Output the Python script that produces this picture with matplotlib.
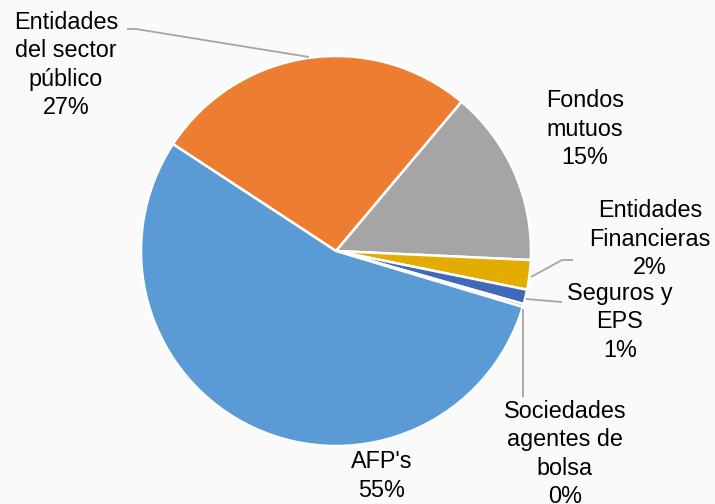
import matplotlib
matplotlib.use("Agg")
import matplotlib.pyplot as plt

plt.rcParams['font.family'] = ['Liberation Sans', 'DejaVu Sans']

categories = ["Entidades\ndel sector\npúblico", "Fondos\nmutuos", "Entidades\nFinancieras",
              "Seguros y\nEPS", "Sociedades\nagentes de\nbolsa", "AFP's"]
shares = [26.9, 14.6, 2.45, 1.2, 0.25, 54.6]
colors = ["#ED7D31", "#A5A5A5", "#E5AC00", "#4169B9", "#70AD47", "#5B9BD5"]

# label layout (pixel coords, y from top)
label_pos = [(66, 65), (585, 129), (650, 239), (620, 322), (565, 454), (382, 476)]

W, H = 715, 504
fig = plt.figure(figsize=(W / 100, H / 100), dpi=100, facecolor="#fafafa")
ax = fig.add_axes([0, 0, 1, 1])

cx, cy, r = 336, H - 251, 195
ax.pie(shares, colors=colors, startangle=146.75, counterclock=False,
       center=(cx, cy), radius=r, frame=True,
       wedgeprops=dict(edgecolor="white", linewidth=1.8))
ax.set_xlim(0, W)
ax.set_ylim(0, H)
ax.set_aspect('equal')
ax.axis('off')

for name, v, (x, y) in zip(categories, shares, label_pos):
    ax.text(x, H - y, f"{name}\n{round(v):.0f}%", ha='center', va='center',
            multialignment='center', fontsize=16.8, color='black', linespacing=1.28)

# leader lines
lc = "#A6A6A6"
leaders = [
    [(127, 29), (136, 29), (309, 57)],
    [(531, 277), (562, 260), (573, 260)],
    [(526, 299), (562, 302)],
    [(523, 309), (523, 397)],
]
for pts in leaders:
    xs = [p[0] for p in pts]
    ys = [H - p[1] for p in pts]
    ax.plot(xs, ys, color=lc, lw=1.3, solid_capstyle='butt')

fig.savefig("out.png", dpi=100, facecolor=fig.get_facecolor())
